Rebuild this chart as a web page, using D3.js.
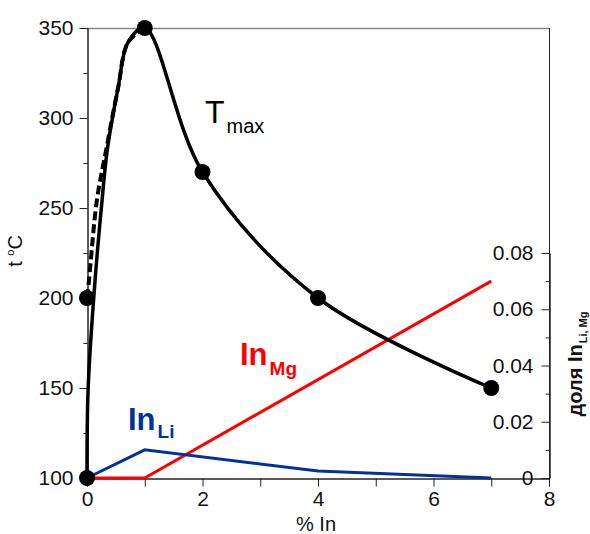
<!DOCTYPE html>
<html>
<head>
<meta charset="utf-8">
<script src="https://cdn.jsdelivr.net/npm/d3@7"></script>
<style>
  body { margin: 0; background: #fff; }
  svg text { font-family: "Liberation Sans", Arial, sans-serif; }
</style>
</head>
<body>
<div id="chart"></div>
<script>
// measured points of Tmax (markers)
var tmaxX = [0, 0, 1, 2, 4, 7];
var tmaxY = [100, 200, 350, 270, 200, 150];
// solid Tmax curve
var curveX = [0, 0.02, 0.14, 0.26, 0.35, 0.54, 0.71, 1, 2, 4, 7];
var curveY = [100, 150, 210, 254, 282, 317, 342, 350, 270, 200, 150];
// dashed Tmax curve (starts at the 200 point)
var dashX = [0, 0.035, 0.17, 0.33, 0.54, 0.71, 1];
var dashY = [200, 210, 254, 282, 317, 342, 350];
// share of In in Li and Mg sublattices (right axis)
var inLiX = [0, 1, 4, 7];
var inLiY = [0, 0.010, 0.0025, 0];
var inMgX = [0, 1, 7];
var inMgY = [0, 0, 0.07];
// tick values
var xTicks = [0, 2, 4, 6, 8];
var xMinor = [1, 3, 5, 7];
var yTicks = [100, 150, 200, 250, 300, 350];
var yMinor = [125, 175, 225, 275, 325];
var rTicks = [0, 0.02, 0.04, 0.06, 0.08];
var rMinor = [0.01, 0.03, 0.05, 0.07];

var width = 590, height = 534;
var mLeft = 87, mRight = 549, mTop = 28, mBottom = 478;

var svg = d3.select('#chart').append('svg')
  .attr('width', width)
  .attr('height', height);

var x = d3.scaleLinear().domain([0, 8]).range([mLeft, mRight]);
var y = d3.scaleLinear().domain([100, 350]).range([mBottom, mTop]);
var yR = d3.scaleLinear().domain([0, 0.08]).range([mBottom, 253]);

//frame top
svg.append('line').attr('x1', mLeft).attr('x2', mRight).attr('y1', mTop + 0.5).attr('y2', mTop + 0.5)
  .style('stroke', '#888').style('stroke-width', 1.5);

//left axis
var gL = svg.append('g').attr('transform', 'translate(' + (mLeft + 0.5) + ',0)');
gL.call(d3.axisLeft(y).tickValues(yTicks).tickSize(8).tickSizeOuter(0));
gL.append('g').call(d3.axisLeft(y).tickValues(yMinor).tickSize(4).tickFormat(''));

//bottom axis
var gB = svg.append('g').attr('transform', 'translate(0,' + (mBottom + 0.5) + ')');
gB.call(d3.axisBottom(x).tickValues(xTicks).tickSize(8).tickSizeOuter(0));
gB.append('g').call(d3.axisBottom(x).tickValues(xMinor).tickSize(8).tickFormat(''));

//right axis, ticks and labels inside
var gR = svg.append('g').attr('transform', 'translate(' + (mRight + 0.5) + ',0)');
gR.call(d3.axisLeft(yR).tickValues(rTicks).tickSize(8).tickSizeOuter(0)
  .tickFormat(function(d) { return d === 0 ? '0' : d3.format('.2f')(d); }));
gR.append('g').call(d3.axisLeft(yR).tickValues(rMinor).tickSize(4).tickFormat(''));
gR.append('line').attr('y1', mTop).attr('y2', mBottom).style('stroke', '#222');

svg.selectAll('.domain').style('stroke', '#222');
svg.selectAll('.tick line').style('stroke', '#222');
svg.selectAll('.tick text').style('font-size', '21px').style('fill', '#111')
  .style('font-family', '"Liberation Sans", Arial, sans-serif');
gL.selectAll('.tick text').attr('x', -14);
gR.selectAll('.tick text').attr('x', -16);
gB.selectAll('.tick text').attr('y', 13);

//In lines
var lineR = d3.line().x(function(d) { return x(d[0]); }).y(function(d) { return yR(d[1]); });
svg.append('path')
  .datum(d3.zip(inMgX, inMgY))
  .attr('d', lineR)
  .style('fill', 'none').style('stroke', '#ff0000').style('stroke-width', 3);
svg.append('path')
  .datum(d3.zip(inLiX, inLiY))
  .attr('d', lineR)
  .style('fill', 'none').style('stroke', '#003399').style('stroke-width', 3);

//Tmax curves
var lineL = d3.line().x(function(d) { return x(d[0]); }).y(function(d) { return y(d[1]); })
  .curve(d3.curveCatmullRom.alpha(0.5));
svg.append('path')
  .datum(d3.zip(dashX, dashY))
  .attr('d', lineL)
  .style('fill', 'none').style('stroke', '#000').style('stroke-width', 4)
  .style('stroke-dasharray', '9,4');
svg.append('path')
  .datum(d3.zip(curveX, curveY))
  .attr('d', lineL)
  .style('fill', 'none').style('stroke', '#000').style('stroke-width', 3.5);

svg.selectAll('circle.pt')
  .data(d3.zip(tmaxX, tmaxY))
  .enter().append('circle')
  .attr('class', 'pt')
  .attr('cx', function(d) { return x(d[0]); })
  .attr('cy', function(d) { return y(d[1]); })
  .attr('r', 8)
  .style('fill', '#000');

//labels
var tl = svg.append('text').attr('x', 205).attr('y', 123).style('fill', '#000');
tl.append('tspan').text('T').style('font-size', '32px');
tl.append('tspan').text('max').attr('dx', 2).attr('dy', 10).style('font-size', '20px');

var mg = svg.append('text').attr('x', 240).attr('y', 365)
  .style('fill', '#ff0000').style('font-weight', 'bold');
mg.append('tspan').text('In').style('font-size', '31px');
mg.append('tspan').text('Mg').attr('dx', 2).attr('dy', 10).style('font-size', '19px');

var li = svg.append('text').attr('x', 128).attr('y', 430)
  .style('fill', '#003399').style('font-weight', 'bold');
li.append('tspan').text('In').style('font-size', '31px');
li.append('tspan').text('Li').attr('dx', 2).attr('dy', 8).style('font-size', '19px');

svg.append('text').attr('x', 316).attr('y', 531).attr('text-anchor', 'middle')
  .style('font-size', '20px').style('fill', '#111').text('% In');

var yt = svg.append('text').attr('transform', 'translate(22,251) rotate(-90)')
  .attr('text-anchor', 'middle').style('font-size', '20px').style('fill', '#111');
yt.append('tspan').text('t ');
yt.append('tspan').text('o').style('font-size', '11px').attr('dy', -8);
yt.append('tspan').text('C').attr('dy', 8);

var rt = svg.append('text').attr('transform', 'translate(582,364) rotate(-90)')
  .attr('text-anchor', 'middle').style('font-weight', 'bold').style('fill', '#111');
rt.append('tspan').text('доля In').style('font-size', '20px');
rt.append('tspan').text('Li, Mg').attr('dx', 1).attr('dy', 5).style('font-size', '11px');
</script>
</body>
</html>
